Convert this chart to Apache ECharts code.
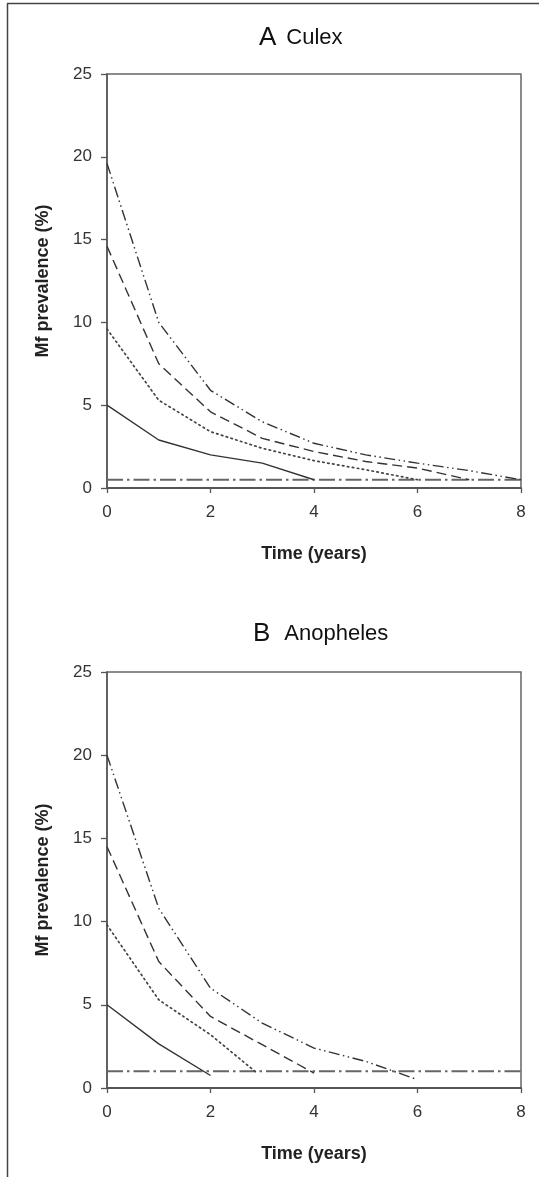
<!DOCTYPE html>
<html>
<head>
<meta charset="utf-8">
<script src="https://cdn.jsdelivr.net/npm/echarts@6/dist/echarts.min.js"></script>
<style>
html,body{margin:0;padding:0;background:#fff;}
#main{width:539px;height:1177px;}
</style>
</head>
<body>
<div id="main"></div>
<script>
// ---- data ----
const years = [0, 1, 2, 3, 4, 5, 6, 7, 8];
const xTicks = [0, 2, 4, 6, 8];
const yTicks = [0, 5, 10, 15, 20, 25];

// Panel A: Culex
const culex5 = [5.0, 2.9, 2.0, 1.5, 0.5];
const culex10 = [9.6, 5.3, 3.4, 2.4, 1.65, 1.1, 0.5];
const culex15 = [14.6, 7.5, 4.6, 3.0, 2.2, 1.6, 1.2, 0.5];
const culex20 = [19.6, 10.0, 5.9, 4.0, 2.7, 2.0, 1.5, 1.05, 0.5];
const culexThreshold = 0.5;

// Panel B: Anopheles
const anoph5Time = [0, 1, 2];
const anoph5 = [5.0, 2.65, 0.75];
const anoph10Time = [0, 1, 2, 2.9];
const anoph10 = [9.8, 5.3, 3.2, 0.9];
const anoph15 = [14.5, 7.6, 4.3, 2.6, 0.9];
const anoph20 = [20.0, 10.8, 6.0, 3.9, 2.4, 1.6, 0.5];
const anophThreshold = 1.0;

function zip(t, v) { return v.map((y, i) => [t[i], y]); }

const FONT = '"Liberation Sans", Arial, sans-serif';
const LINE = '#333';

const styles = {
  s5: { type: 'solid', width: 1.4, color: LINE },
  s10: { type: [1.5, 3.5], width: 1.7, color: '#444', cap: 'round' },
  s15: { type: [10, 5], width: 1.4, color: LINE },
  s20: { type: [11, 3.5, 1.5, 3.5, 1.5, 3.5], width: 1.4, color: LINE },
  thr: { type: [16, 4, 2.5, 4], width: 2, color: '#666' }
};

function lineSeries(idx, data, st) {
  return {
    type: 'line', xAxisIndex: idx, yAxisIndex: idx, data: data,
    showSymbol: false, symbol: 'none', silent: true, animation: false,
    lineStyle: st, z: 3
  };
}

function xAxis(idx) {
  return {
    type: 'value', gridIndex: idx, min: 0, max: 8, interval: 2,
    name: 'Time (years)', nameLocation: 'middle', nameGap: 57,
    nameTextStyle: { fontFamily: FONT, fontSize: 18, fontWeight: 'bold', color: '#222' },
    axisLine: { show: true, onZero: false, lineStyle: { color: '#555', width: 2 } },
    axisTick: { show: true, inside: false, length: 5, lineStyle: { color: '#555', width: 1.3 } },
    axisLabel: { fontFamily: FONT, fontSize: 17, color: '#333', margin: 16 },
    splitLine: { show: false }
  };
}
function yAxis(idx) {
  return {
    type: 'value', gridIndex: idx, min: 0, max: 25, interval: 5,
    name: 'Mf prevalence (%)', nameLocation: 'middle', nameGap: 55, nameRotate: 90,
    nameTextStyle: { fontFamily: FONT, fontSize: 18, fontWeight: 'bold', color: '#222' },
    axisLine: { show: true, onZero: false, lineStyle: { color: '#555', width: 1.5 } },
    axisTick: { show: true, inside: false, length: 6, lineStyle: { color: '#555', width: 1.3 } },
    axisLabel: { fontFamily: FONT, fontSize: 17, color: '#333', margin: 15 },
    splitLine: { show: false }
  };
}

const chart = echarts.init(document.getElementById('main'), null, { renderer: 'canvas' });
chart.setOption({
  backgroundColor: '#fff',
  animation: false,
  grid: [
    { left: 107, top: 74, width: 414, height: 414, show: true, borderColor: '#666', borderWidth: 1.5, backgroundColor: 'transparent' },
    { left: 107, top: 672, width: 414, height: 416, show: true, borderColor: '#666', borderWidth: 1.5, backgroundColor: 'transparent' }
  ],
  xAxis: [xAxis(0), xAxis(1)],
  yAxis: [yAxis(0), yAxis(1)],
  series: [
    lineSeries(0, [[years[0], culexThreshold], [years[8], culexThreshold]], styles.thr),
    lineSeries(0, zip(years, culex5), styles.s5),
    lineSeries(0, zip(years, culex10), styles.s10),
    lineSeries(0, zip(years, culex15), styles.s15),
    lineSeries(0, zip(years, culex20), styles.s20),
    lineSeries(1, [[years[0], anophThreshold], [years[8], anophThreshold]], styles.thr),
    lineSeries(1, zip(anoph5Time, anoph5), styles.s5),
    lineSeries(1, zip(anoph10Time, anoph10), styles.s10),
    lineSeries(1, zip(years, anoph15), styles.s15),
    lineSeries(1, zip(years, anoph20), styles.s20)
  ],
  graphic: [
    { type: 'line', shape: { x1: 7.5, y1: 3.5, x2: 7.5, y2: 1177 }, style: { stroke: '#444', lineWidth: 1.5 } },
    { type: 'line', shape: { x1: 7, y1: 3.5, x2: 539, y2: 3.5 }, style: { stroke: '#444', lineWidth: 1.5 } },
    { type: 'text', x: 259, y: 38, style: {
        text: '{l|A}{n|Culex}', verticalAlign: 'middle', align: 'left',
        rich: { l: { fontFamily: FONT, fontSize: 26, fill: '#111' }, n: { fontFamily: FONT, fontSize: 22, fill: '#111', padding: [0, 0, 0, 10] } } } },
    { type: 'text', x: 253, y: 634, style: {
        text: '{l|B}{n|Anopheles}', verticalAlign: 'middle', align: 'left',
        rich: { l: { fontFamily: FONT, fontSize: 26, fill: '#111' }, n: { fontFamily: FONT, fontSize: 22, fill: '#111', padding: [0, 0, 0, 14] } } } }
  ]
});
</script>
</body>
</html>
